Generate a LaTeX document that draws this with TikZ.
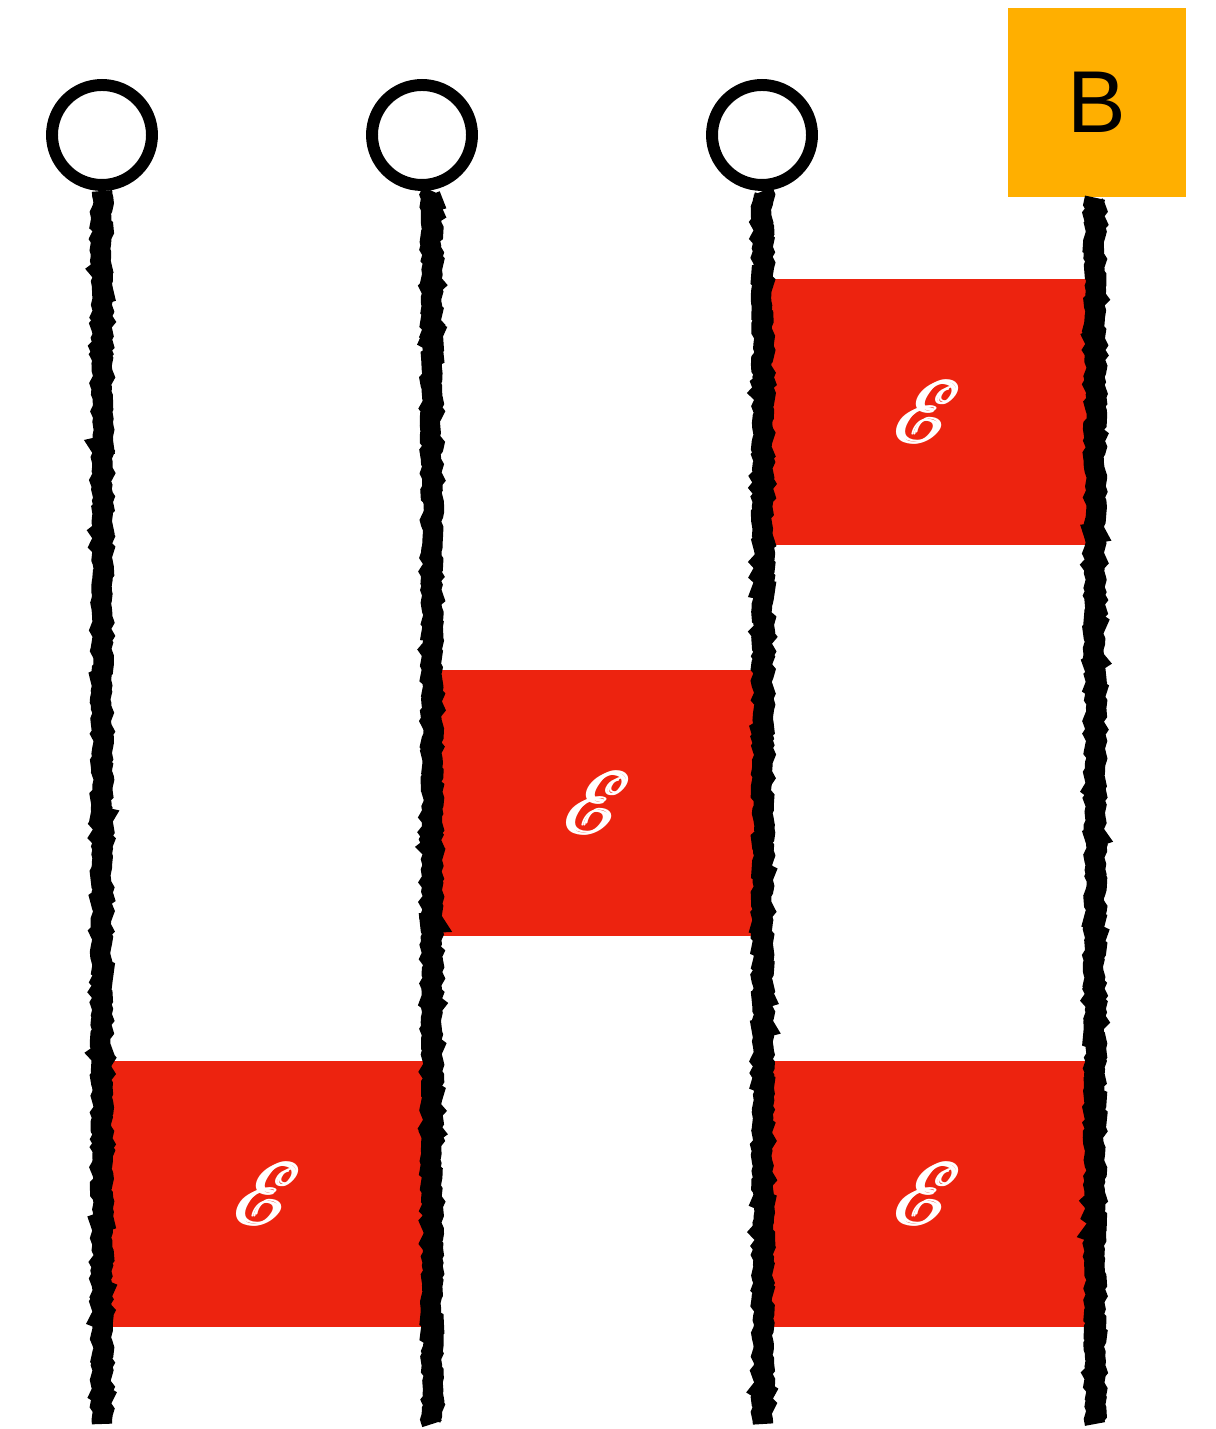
\documentclass[tikz,border=0pt]{standalone}
\usepackage{fontspec}
\usepackage{mathrsfs}
\setsansfont{Liberation Sans}
\usetikzlibrary{decorations.pathmorphing}
\definecolor{flagred}{RGB}{237,35,15}
\definecolor{boxorange}{RGB}{255,175,0}
% dickes Schreibschrift-E (mehrfach ueberlagert)
\newcommand{\fatE}{\rlap{$\mathscr{E}$}\kern0.5pt\rlap{$\mathscr{E}$}\kern0.5pt\raisebox{0.4pt}{$\mathscr{E}$}}

\begin{document}
\begin{tikzpicture}[x=1cm,y=1cm,
    pole/.style={line width=5.8pt,decorate,decoration={random steps,segment length=1.2pt,amplitude=0.6pt}},
    ring/.style={circle,draw,line width=3.4pt,minimum size=1.0cm,inner sep=0pt},
    flag/.style={fill=flagred,minimum width=3.26cm,minimum height=2.66cm,inner sep=0pt,text=white,
                 font=\fontsize{34}{38}\selectfont},
    label box/.style={fill=boxorange,minimum width=1.78cm,minimum height=1.89cm,inner sep=0pt,
                 font=\sffamily\fontsize{25}{28}\selectfont}]
  \useasboundingbox (0,0) rectangle (12.15,14.29);
  % flaggen zwischen den staeben
  \node[flag] (f1) at (9.27,10.17) {\fatE};
  \node[flag] (f2) at (5.97,6.26) {\fatE};
  \node[flag] (f3) at (2.67,2.35) {\fatE};
  \node[flag] (f4) at (9.27,2.35) {\fatE};
  % koepfe
  \node[ring] (r1) at (1.02,12.94) {};
  \node[ring] (r2) at (4.22,12.94) {};
  \node[ring] (r3) at (7.62,12.94) {};
  \node[label box] (b) at (10.97,13.265) {B};
  % staebe
  \coordinate (e1) at (1.02,0.05);
  \coordinate (e2) at (4.32,0.05);
  \coordinate (e3) at (7.63,0.05);
  \coordinate (e4) at (10.95,0.05);
  \draw[pole] (r1.south -| e1) -- (e1);
  \draw[pole] (r2.south -| e2) -- (e2);
  \draw[pole] (r3.south -| e3) -- (e3);
  \draw[pole] (b.south -| e4) -- (e4);
\end{tikzpicture}
\end{document}
